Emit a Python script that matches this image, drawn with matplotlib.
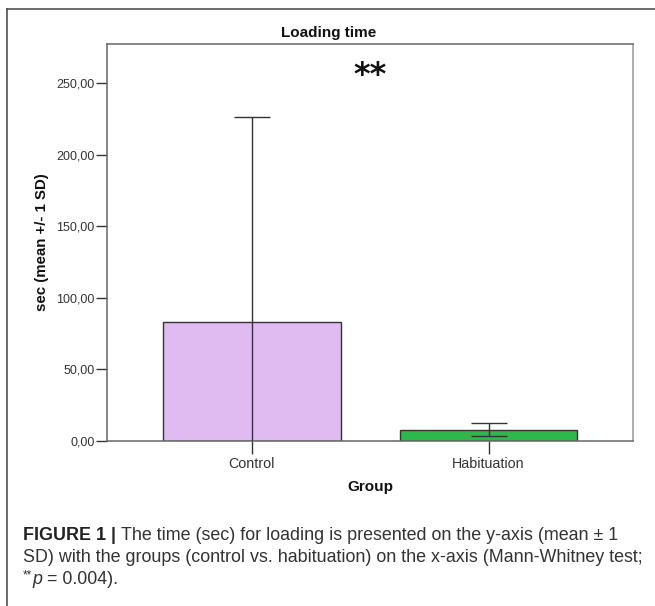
import matplotlib
matplotlib.use("Agg")
import matplotlib.pyplot as plt
from matplotlib.lines import Line2D

plt.rcParams["font.family"] = ["Liberation Sans", "DejaVu Sans"]

# ── data ─────────────────────────────────────────
groups = ["Control", "Habituation"]
means = [82.8, 7.6]
sds = [143.6, 4.6]
yticks = [0, 50, 100, 150, 200, 250]
ytick_labels = ["0,00", "50,00", "100,00", "150,00", "200,00", "250,00"]
bar_colors = ["#dfbbf2", "#2cb84b"]

W, H = 655, 606
fig = plt.figure(figsize=(6.55, 6.06), dpi=100)
ax = fig.add_axes([107.3 / W, 1 - 440.7 / H, 526 / W, 396.7 / H])

x = list(range(len(groups)))
ax.bar(x, means, width=0.75, color=bar_colors, edgecolor="#333333", linewidth=1.0, zorder=2)
ax.errorbar(x, means, yerr=sds, fmt="none", ecolor="#333333", elinewidth=1.0,
            capsize=13.3, capthick=1.0, zorder=3)

ax.set_xlim(-0.61, 1.611)
ax.set_ylim(0, 277.4)
ax.set_xticks(x)
ax.set_xticklabels(groups, fontsize=10.3, color="#333333")
ax.set_yticks(yticks)
ax.set_yticklabels(ytick_labels, fontsize=9, color="#333333")
ax.tick_params(axis="x", length=9, width=1.0, color="#333333", pad=3)
ax.tick_params(axis="y", length=8, width=1.0, color="#333333", pad=1)
for sp in ax.spines.values():
    sp.set_color("#666666")
    sp.set_linewidth(1.1)
ax.spines["right"].set_color("#999999")

fig.text(370 / W, 1 - 487 / H, "Group", ha="center", va="center",
         fontsize=11, fontweight="bold", color="#111111")
fig.text(42.5 / W, 1 - 242 / H, "sec (mean +/- 1 SD)", ha="center", va="center",
         rotation=90, fontsize=10.8, fontweight="bold", color="#111111")
fig.text(328.5 / W, 1 - 33.3 / H, "Loading time", ha="center", va="center",
         fontsize=11, fontweight="bold", color="#111111")
ax.text(0.5, 255.7, "**", ha="center", va="center", fontsize=23, fontweight="bold",
        family="DejaVu Sans", color="#111111")

# panel frame
fig.add_artist(Line2D([7.3 / W, 7.3 / W], [0, 1 - 9.3 / H], color="#444444", linewidth=1.1,
                      transform=fig.transFigure))
fig.add_artist(Line2D([7.3 / W, 1], [1 - 9.3 / H, 1 - 9.3 / H], color="#444444", linewidth=1.1,
                      transform=fig.transFigure))

# caption, drawn in runs so bold/italic parts sit inline
renderer = fig.canvas.get_renderer()

def runs(x0, y0, parts, size=12.9):
    xp = x0
    for txt, kw in parts:
        opts = dict(fontsize=size, va="baseline", color="#333333")
        opts.update(kw)
        t = fig.text(xp / W, 1 - y0 / H, txt, **opts)
        xp += t.get_window_extent(renderer).width

runs(23, 540, [("FIGURE 1 | ", dict(fontweight="bold", color="#222222")),
               ("The time (sec) for loading is presented on the y-axis (mean \u00b1 1", {})])
runs(23, 562, [("SD) with the groups (control vs. habituation) on the x-axis (Mann-Whitney test;", {})])
t = fig.text(23 / W, 1 - 578 / H, "**", fontsize=8.5, va="baseline", color="#333333")
runs(23 + t.get_window_extent(renderer).width, 584,
     [("p", dict(style="italic")), (" = 0.004).", {})])

fig.savefig("out.png", dpi=100)
